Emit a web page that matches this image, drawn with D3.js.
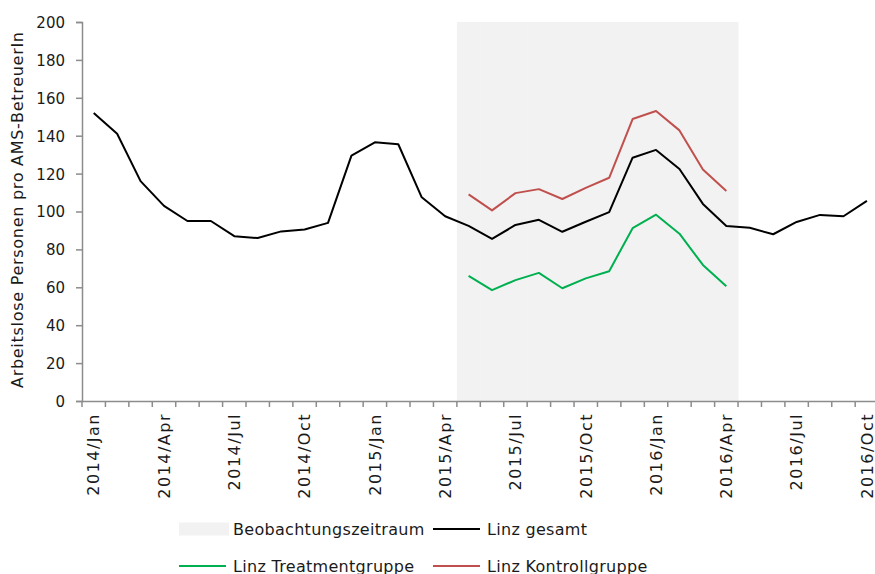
<!DOCTYPE html>
<html><head><meta charset="utf-8">
<script src="https://cdn.jsdelivr.net/npm/d3@7"></script>
<style>body{margin:0;background:#fff}svg{display:block}text{font-family:"DejaVu Sans",sans-serif;fill:#1a1a1a}</style>
</head><body><svg id="c" width="875" height="574"></svg>
<script>
const months = ["Jan","Feb","Mar","Apr","May","Jun","Jul","Aug","Sep","Oct","Nov","Dec"];
const categories = [];
for (let y = 2014; y <= 2016; y++) for (const m of months) { if (categories.length < 34) categories.push(y + "/" + m); }
const gesamt = [152,141,116,103,95,95,87,86,89.5,90.5,94,129.5,136.5,135.5,107.5,97.5,
  92.4,85.5,92.9,95.6,89.3,94.6,99.7,128.4,132.5,122.4,104,92.3,91.4,88,94.5,98.2,97.5,105.6];
const treatment = [null,null,null,null,null,null,null,null,null,null,null,null,null,null,null,null,
  66,58.5,63.8,67.6,59.5,64.7,68.5,91.2,98.3,88.3,71.8,60.5,null,null,null,null,null,null];
const kontroll = [null,null,null,null,null,null,null,null,null,null,null,null,null,null,null,null,
  109,100.6,109.7,111.8,106.6,112.5,117.8,148.8,153,142.8,122.2,110.8,null,null,null,null,null,null];
const beobachtung = categories.map((c,i) => (i >= 16 && i <= 27) ? 200 : null);
const yTicks = [0,20,40,60,80,100,120,140,160,180,200];
const seriesNames = ["Beobachtungszeitraum","Linz gesamt","Linz Treatmentgruppe","Linz Kontrollgruppe"];

const svg = d3.select("#c");
const x = d3.scaleBand().domain(categories).range([82, 82 + 34*23.43]).padding(0);
const y = d3.scaleLinear().domain([0,200]).range([401, 22]);
const axisColor = "#8c8c8c";

// shaded observation period
svg.append("g").selectAll("rect").data(categories.map((c,i)=>({c, v: beobachtung[i]})).filter(d=>d.v!=null))
  .join("rect").attr("x", d=>x(d.c)).attr("width", x.bandwidth()+0.5)
  .attr("y", d=>y(d.v)).attr("height", d=>y(0)-y(d.v)).attr("fill","#f2f2f2");

// y axis
const yAxis = svg.append("g").attr("transform","translate(82,0)")
  .call(d3.axisLeft(y).tickValues(yTicks).tickSize(6).tickPadding(11));
yAxis.select(".domain").attr("stroke",axisColor).attr("stroke-width",1.5);
yAxis.selectAll(".tick line").attr("stroke",axisColor).attr("stroke-width",1.5);
yAxis.selectAll(".tick text").style("font-size","15px").attr("fill","#1a1a1a").attr("dy","0.36em");

// x axis
const xAxis = svg.append("g").attr("transform","translate(0,401)")
  .call(d3.axisBottom(x).tickSize(0).tickFormat((d,i)=> i%3===0 ? d : ""));
xAxis.select(".domain").attr("stroke",axisColor).attr("stroke-width",1.5);
xAxis.selectAll(".tick text").style("font-size","16px").style("letter-spacing","1.5px").attr("fill","#1a1a1a")
  .attr("transform","rotate(-90)").attr("text-anchor","end").attr("x",-12).attr("y",0).attr("dy","0.36em");
// tick marks between categories
const bounds = d3.range(0, 35).map(i => 82 + i*x.step());
xAxis.selectAll(".between").data(bounds).join("line").attr("class","between")
  .attr("x1",d=>d).attr("x2",d=>d).attr("y1",0).attr("y2",6)
  .attr("stroke",axisColor).attr("stroke-width",1.5);

// lines
const line = d3.line().defined(d=>d.v!=null).x(d=>x(d.c)+x.bandwidth()/2).y(d=>y(d.v));
function draw(vals, color){
  svg.append("path").datum(categories.map((c,i)=>({c, v: vals[i]})))
    .attr("d", line).attr("fill","none").attr("stroke",color).attr("stroke-width",2)
    .attr("stroke-linejoin","round");
}
draw(gesamt, "#000000");
draw(kontroll, "#c0504d");
draw(treatment, "#00b050");

// y title
svg.append("text").attr("transform","translate(17,210) rotate(-90)")
  .attr("text-anchor","middle").attr("dy","0.36em").style("font-size","16px")
  .attr("textLength",356).attr("lengthAdjust","spacing")
  .text("Arbeitslose Personen pro AMS-BetreuerIn");

// legend
const leg = svg.append("g");
const items = [
  {name: seriesNames[0], type:"rect", color:"#f2f2f2", x:179, y:529},
  {name: seriesNames[1], type:"line", color:"#000000", x:433, y:529},
  {name: seriesNames[2], type:"line", color:"#00b050", x:179, y:566},
  {name: seriesNames[3], type:"line", color:"#c0504d", x:433, y:566}
];
items.forEach(it=>{
  if (it.type==="rect") leg.append("rect").attr("x",it.x).attr("y",it.y-6.5).attr("width",50).attr("height",13).attr("fill",it.color);
  else leg.append("line").attr("x1",it.x).attr("x2",it.x+47).attr("y1",it.y).attr("y2",it.y).attr("stroke",it.color).attr("stroke-width",2);
  leg.append("text").attr("x", it.x + 54).attr("y",it.y).attr("dy","0.36em")
    .style("font-size","16px").style("letter-spacing","0.3px").text(it.name);
});
</script></body></html>
